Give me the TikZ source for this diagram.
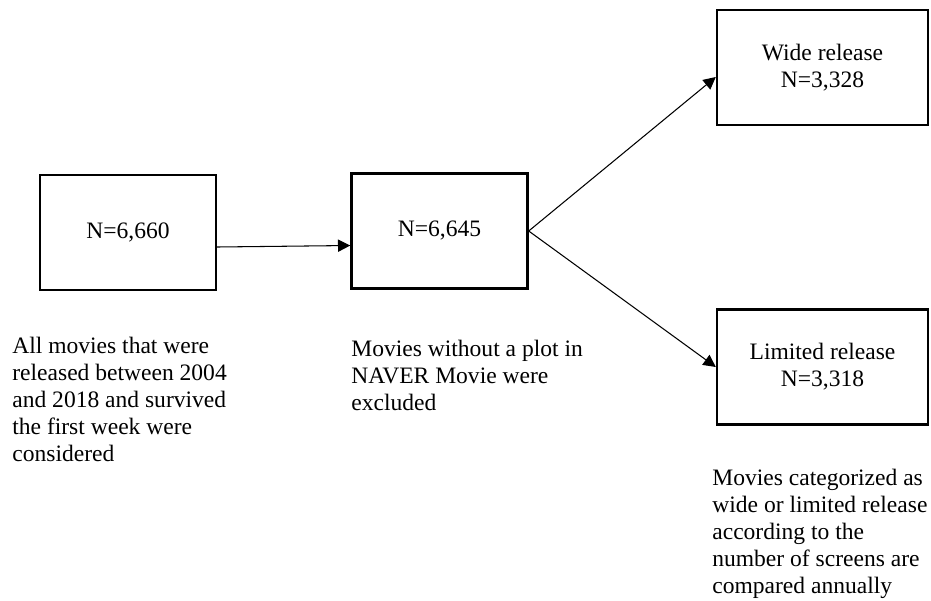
\documentclass[tikz,border=0pt]{standalone}
\usepackage{fontspec}
\setmainfont{Liberation Serif}
\usetikzlibrary{arrows.meta}
\begin{document}
\begin{tikzpicture}[x=0.02cm,y=-0.02cm,
  every node/.style={font=\fontsize{13.4}{15.3}\selectfont},
  box/.style={draw,line width=1.4pt,minimum height=2.3cm,align=center,inner sep=0pt},
  note/.style={anchor=base west,align=left,inner sep=0pt},
  arr/.style={line width=0.6pt,-{Triangle[length=7pt,width=7pt]}}]
\useasboundingbox (0,0) rectangle (931,600);
\node[box,minimum width=3.52cm] (all) at (128,232.5) {N=6,660};
\node[box,minimum width=3.52cm] (plot) at (439.5,231) {N=6,645};
\node[box,minimum width=4.22cm] (wide) at (822.5,67.5) {Wide release\\N=3,328};
\node[box,minimum width=4.22cm] (limited) at (822.5,367) {Limited release\\N=3,318};
% base of a multi-line note is its last line
\node[note] (allnote) at (12,461) {All movies that were\\released between 2004\\and 2018 and survived\\the first week were\\considered};
\node[note] (plotnote) at (351,410) {Movies without a plot in\\NAVER Movie were\\excluded};
\node[note] (relnote) at (712,593) {Movies categorized as\\wide or limited release\\according to the\\number of screens are\\compared annually};
\draw[arr] ([yshift=-0.29cm]all.east) -- ([yshift=-0.29cm]plot.west);
\draw[arr] (plot.east) -- ([yshift=-0.19cm]wide.west);
\draw[arr] (plot.east) -- (limited.west);
\end{tikzpicture}
\end{document}
